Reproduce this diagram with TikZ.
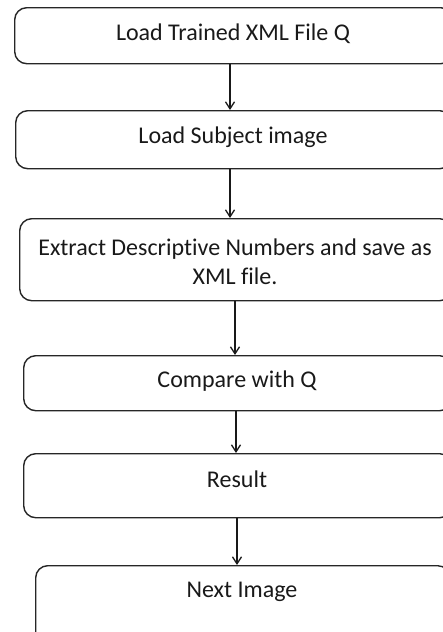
\documentclass[tikz,border=0pt]{standalone}
\usepackage{fontspec}
\setmainfont{Carlito}[Ligatures=NoCommon]
\usetikzlibrary{arrows.meta}
\begin{document}
\begin{tikzpicture}[x=1pt,y=-1pt,
  box/.style={draw=black!85,line width=1.4pt,rounded corners=12pt,anchor=north west,inner sep=0pt},
  lbl/.style={font=\fontsize{24}{29}\selectfont,text=black!90,align=center,inner sep=0pt},
  conn/.style={draw=black!90,line width=1.3pt,-{Straight Barb[length=7pt,width=9pt]}}]
\useasboundingbox (0,0) rectangle (443,632);
\clip (0,0) rectangle (443,632);
% boxes
\node[box,minimum width=438pt,minimum height=56pt] (b1) at (14,7) {};
\node[box,minimum width=436pt,minimum height=58pt] (b2) at (15,110) {};
\node[box,minimum width=432pt,minimum height=82pt] (b3) at (19,218) {};
\node[box,minimum width=428pt,minimum height=55pt] (b4) at (23,355) {};
\node[box,minimum width=428pt,minimum height=64pt] (b5) at (23,453) {};
\node[box,minimum width=414pt,minimum height=95pt] (b6) at (35,565) {};
% labels
\node[lbl] (t1) at (233,34) {Load Trained XML File Q};
\node[lbl] (t2) at (233,137) {Load Subject image};
\node[lbl] (t3) at (235,262) {Extract Descriptive Numbers and save as\\XML file.};
\node[lbl] (t4) at (237,381) {Compare with Q};
\node[lbl] (t5) at (237,479) {Result};
\node[lbl] (t6) at (242,592) {Next Image};
% connector x positions
\coordinate (x1) at (230,0);
\coordinate (x2) at (230,0);
\coordinate (x3) at (235,0);
\coordinate (x4) at (236,0);
\coordinate (x5) at (237,0);
\draw[conn] (b1.south -| x1) -- (b2.north -| x1);
\draw[conn] (b2.south -| x2) -- (b3.north -| x2);
\draw[conn] (b3.south -| x3) -- (b4.north -| x3);
\draw[conn] (b4.south -| x4) -- (b5.north -| x4);
\draw[conn] (b5.south -| x5) -- (b6.north -| x5);
\end{tikzpicture}
\end{document}
